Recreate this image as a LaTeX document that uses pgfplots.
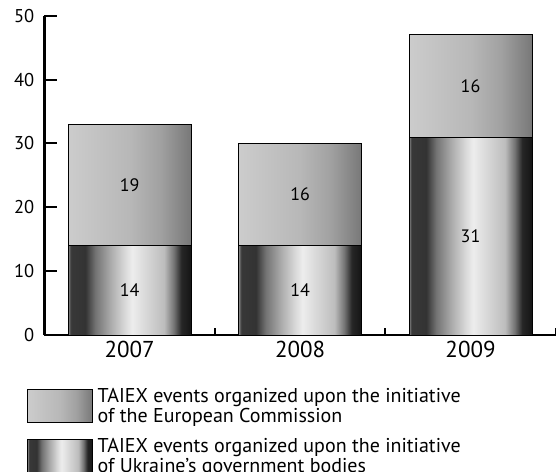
\documentclass[border=0pt]{standalone}
\usepackage{fontspec}
\setmainfont{PT Sans}
\usepackage{pgfplots}
\pgfplotsset{compat=1.18}

% Horizontal shadings; the bar's bounding box spans 25bp..75bp of the shading
\pgfdeclarehorizontalshading{commission}{100bp}{%
  color(0bp)=(black!20); color(25bp)=(black!20);
  color(50bp)=(black!28); color(62.5bp)=(black!37);
  color(75bp)=(black!53); color(100bp)=(black!53)}
\pgfdeclarehorizontalshading{ukraine}{100bp}{%
  color(0bp)=(black!45); color(25bp)=(black!45);
  color(26bp)=(black!78); color(32bp)=(black!80);
  color(36bp)=(black!55); color(42.5bp)=(black!32);
  color(48bp)=(black!15); color(51bp)=(black!7);
  color(55bp)=(black!13); color(64bp)=(black!26);
  color(68bp)=(black!55); color(71bp)=(black!85);
  color(75bp)=(black!92); color(100bp)=(black!92)}

% Common frame: every year is drawn in its own axis so that each bar gets its own shading
\pgfplotsset{
  taiex/.style={
    at={(0,0)}, anchor=south west,
    scale only axis, width=511.25bp, height=319.3bp,
    xmin=-0.5, xmax=2.5, ymin=0, ymax=50,
    ybar stacked, bar width=0.7214,
    /pgf/number format/assume math mode=true,
    visualization depends on={rawy \as \rawval},
    nodes near coords={\pgfmathprintnumber{\rawval}},
    nodes near coords align={center},
    every node near coord/.append style={font=\fontsize{18bp}{18bp}\selectfont, black},
  },
  ukr/.style={draw=black, line width=0.8bp, shading=ukraine},
  ec/.style={draw=black, line width=0.8bp, shading=commission},
}

\begin{document}
\begin{tikzpicture}
% 2007, axis lines, ticks and legend
\begin{axis}[
  taiex,
  axis x line*=bottom, axis y line*=left,
  axis line style={line width=2.2bp, black},
  ytick={0,10,...,50},
  xtick={0,1,2}, xticklabels={2007,2008,2009},
  minor xtick={0.5,1.5,2.5},
  tick align=inside,
  major tick length=12bp, minor tick length=7bp,
  tick style={line width=2bp, black},
  major x tick style={draw=none},
  yticklabel style={font=\fontsize{18.5bp}{18.5bp}\selectfont, inner sep=0pt, xshift=-10bp},
  xticklabel style={font=\fontsize{23bp}{23bp}\selectfont, inner sep=0pt, yshift=-6bp},
  legend image code/.code={%
    \draw[#1, line width=0.8bp, draw=black] (0bp,-16.5bp) rectangle (65bp,16.5bp);
    \path[draw=none, fill=none] (0bp,0bp) -- (74bp,0bp);},
  reverse legend,
  legend cell align=left,
  legend style={at={(-0.0342,-0.1660)}, anchor=north west, draw=none, fill=none,
    inner sep=0pt, row sep=14.5bp, column sep=-4bp, nodes={inner sep=0pt},
    font=\fontsize{20bp}{20bp}\selectfont, align=left},
]
\addplot[ukr] coordinates {(0,14)};
\addlegendentry{TAIEX events organized upon the initiative\\of Ukraine’s government bodies}
\addplot[ec] coordinates {(0,19)};
\addlegendentry{TAIEX events organized upon the initiative\\of the European Commission}
\end{axis}
% 2008
\begin{axis}[taiex, hide axis]
\addplot[ukr] coordinates {(1,14)};
\addplot[ec] coordinates {(1,16)};
\end{axis}
% 2009
\begin{axis}[taiex, hide axis]
\addplot[ukr] coordinates {(2,31)};
\addplot[ec] coordinates {(2,16)};
\end{axis}
\pgfresetboundingbox
\useasboundingbox (-44.5bp,-137bp) rectangle (511.5bp,335bp);
\end{tikzpicture}
\end{document}
